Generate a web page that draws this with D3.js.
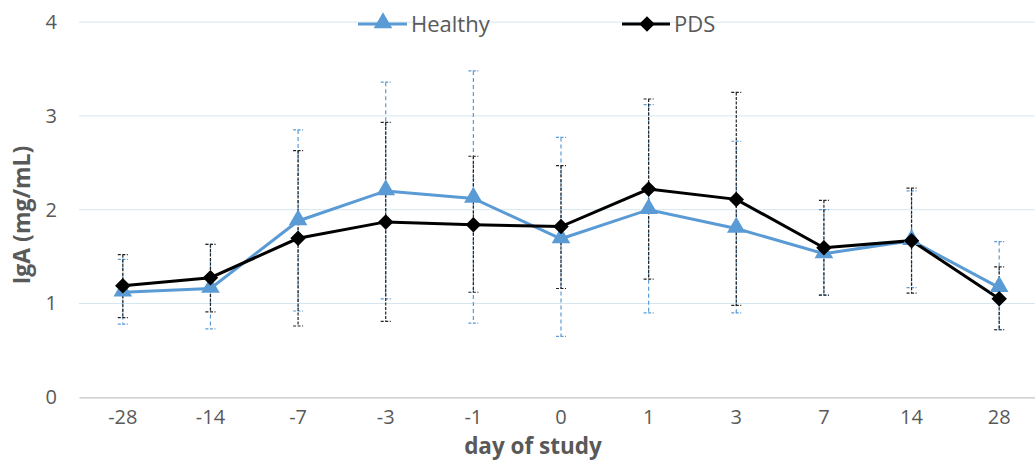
<!DOCTYPE html>
<html><head><meta charset="utf-8">
<script src="https://cdn.jsdelivr.net/npm/d3@7"></script>
<style>body{margin:0;background:#fff;} svg{display:block;font-family:"Open Sans","Noto Sans",sans-serif;}</style>
</head><body>
<svg id="c" width="1035" height="464"></svg>
<script>
const days = ["-28","-14","-7","-3","-1","0","1","3","7","14","28"];
const healthy = [1.12,1.16,1.88,2.20,2.12,1.69,2.00,1.80,1.53,1.67,1.17];
const healthyHi = [1.47,1.63,2.85,3.36,3.48,2.77,3.12,2.73,2.00,2.20,1.66];
const healthyLo = [0.78,0.73,0.92,1.05,0.79,0.65,0.90,0.90,1.09,1.17,0.72];
const pds = [1.19,1.275,1.695,1.87,1.84,1.82,2.22,2.11,1.595,1.67,1.05];
const pdsHi = [1.52,1.63,2.63,2.93,2.57,2.47,3.18,3.25,2.10,2.23,1.39];
const pdsLo = [0.85,0.91,0.76,0.81,1.12,1.16,1.26,0.98,1.09,1.11,0.72];
const yTicks = [0,1,2,3,4];

const svg = d3.select("#c");
const x = d3.scaleBand().domain(days).range([79, 1043]);
const y = d3.scaleLinear().domain([0,4]).range([397.3, 22.1]);
const cx = d => x(d) + x.bandwidth()/2;
const grey = "#595959", blue = "#5b9bd5";

// gridlines
svg.append("g").selectAll("line").data(yTicks.filter(t=>t>0)).join("line")
  .attr("x1",79).attr("x2",1035).attr("y1",d=>y(d)).attr("y2",d=>y(d))
  .attr("stroke","#d6e6ee").attr("stroke-width",1);
// x axis
const xa = svg.append("g").attr("transform",`translate(0,${y(0)})`)
  .call(d3.axisBottom(x).tickSize(0).tickPadding(13));
xa.select(".domain").attr("stroke","#c4c4c4").attr("stroke-width",1.3);
xa.selectAll("text").attr("fill",grey).attr("font-size",20).attr("font-family","'Open Sans',sans-serif");
// y axis
const ya = svg.append("g").attr("transform","translate(57,0)")
  .call(d3.axisLeft(y).tickValues(yTicks).tickFormat(d3.format("d")).tickSize(0).tickPadding(0));
ya.select(".domain").remove();
ya.selectAll("text").attr("fill",grey).attr("font-size",20).attr("font-family","'Open Sans',sans-serif");

// axis titles
svg.append("text").attr("x",533).attr("y",454).attr("text-anchor","middle")
  .attr("font-size",22.5).attr("font-weight","bold").attr("fill",grey).text("day of study");
svg.append("text").attr("transform","translate(30,215) rotate(-90)").attr("text-anchor","middle")
  .attr("font-size",23).attr("font-weight","bold").attr("fill",grey).text("IgA (mg/mL)");

function errorBars(lo, hi, color, dash){
  const g = svg.append("g");
  days.forEach((d,i)=>{
    const X = cx(d);
    g.append("line").attr("x1",X).attr("x2",X).attr("y1",y(hi[i])).attr("y2",y(lo[i]))
      .attr("stroke",color).attr("stroke-width",1.2).attr("stroke-dasharray",dash);
    [hi[i],lo[i]].forEach(v=>{
      g.append("line").attr("x1",X-5).attr("x2",X+5).attr("y1",y(v)).attr("y2",y(v))
        .attr("stroke",color).attr("stroke-width",1.2).attr("stroke-dasharray","3,1.5");
    });
  });
}
errorBars(healthyLo, healthyHi, blue, "4,3");
errorBars(pdsLo, pdsHi, "#222", "3,1.5");

const line = d3.line().x((v,i)=>cx(days[i])).y(v=>y(v));
svg.append("path").datum(healthy).attr("d",line).attr("fill","none").attr("stroke",blue).attr("stroke-width",3);
svg.append("path").datum(pds).attr("d",line).attr("fill","none").attr("stroke","#000").attr("stroke-width",3);

const tri = d3.symbol().type(d3.symbolTriangle).size(150);
const dia = d3.symbol().type(d3.symbolSquare).size(120);
svg.append("g").selectAll("path").data(healthy).join("path")
  .attr("d",tri).attr("transform",(v,i)=>`translate(${cx(days[i])},${y(v)-1})`).attr("fill",blue);
svg.append("g").selectAll("path").data(pds).join("path")
  .attr("d",dia).attr("transform",(v,i)=>`translate(${cx(days[i])},${y(v)}) rotate(45)`).attr("fill","#000");

// legend
const lg = svg.append("g");
lg.append("line").attr("x1",358).attr("x2",407).attr("y1",24).attr("y2",24).attr("stroke",blue).attr("stroke-width",3);
lg.append("path").attr("d",tri).attr("transform","translate(383,23)").attr("fill",blue);
lg.append("text").attr("x",411).attr("y",32).attr("font-size",22).attr("fill",grey).text("Healthy");
lg.append("line").attr("x1",622).attr("x2",670).attr("y1",24).attr("y2",24).attr("stroke","#000").attr("stroke-width",3);
lg.append("path").attr("d",dia).attr("transform","translate(647,24) rotate(45)").attr("fill","#000");
lg.append("text").attr("x",674).attr("y",32).attr("font-size",22).attr("fill",grey).text("PDS");
</script>
</body></html>
